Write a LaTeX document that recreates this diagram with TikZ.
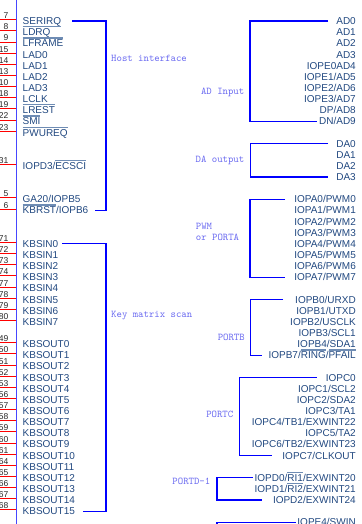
\documentclass[tikz,border=0pt]{standalone}
\usepackage{fontspec}
\setmainfont{Liberation Sans}
\usetikzlibrary{positioning,calc}
\definecolor{pinblue}{RGB}{33,72,128}
\definecolor{ovcol}{RGB}{110,140,180}
\definecolor{grpblue}{RGB}{105,105,240}
\definecolor{chipblue}{RGB}{70,70,255}
\newcommand{\ovl}[2][]{\setbox0=\hbox{#2}\setbox2=\hbox{\ifx\relax#1\relax#2\else#1\fi}\rlap{\textcolor{ovcol}{\rule[8.3pt]{\wd2}{1.2pt}}}\box0}
\newcommand{\lpin}[3]{%
  \node[pinl] (L#1) at (22.5,{21+11.14*#1}) {#3};
  \draw[lead] ($(L#1.west -| chip)+(0,-1.3)$) -- ($(L#1.west -| edge)+(0,-1.3)$);
  \node[num] (N#1) at ($(L#1.west -| numx)+(0,-2.3)$) {#2};}

\begin{document}
\begin{tikzpicture}[
  x=1pt,y=-1pt,
  pinl/.style={anchor=west,inner sep=0pt,text height=7.2pt,text depth=0pt,text=pinblue,font=\fontsize{10}{12}\selectfont},
  pinr/.style={pinl,anchor=east},
  num/.style={anchor=base east,inner sep=0pt,font=\fontsize{8.5}{10}\selectfont,text=black!85},
  grp/.style={inner sep=0pt,text=grpblue,font=\fontsize{10.3}{10.7}\selectfont\ttfamily},
  lead/.style={red,line width=0.9pt},
  brk/.style={blue,line width=1.1pt},
  wall/.style={chipblue,line width=1pt}
]
\useasboundingbox (0,0) rectangle (361,524);
\coordinate (chip) at (16,0);
\coordinate (edge) at (-2,0);
\coordinate (numx) at (8.5,0);
\coordinate (lspine) at (106,0);
\coordinate (adx) at (250,0);
\coordinate (dax) at (250.3,0);
\coordinate (pwmx) at (250,0);
\coordinate (pbx) at (250.3,0);
\coordinate (pcx) at (239.3,0);
\coordinate (pdx) at (217,0);
\draw[wall] (chip |- 0,-5) -- (chip |- 0,540);

\foreach \r/\n/\t in {0/7/SERIRQ,1/8/\ovl[SERIRQ]{LDRQ},2/9/\ovl{LFRAME},3/15/LAD0,4/14/LAD1,5/13/LAD2,6/10/LAD3,
  7/18/LCLK,8/19/\ovl{LREST},9/22/\ovl{SMI},10/23/\ovl{PWUREQ},13/31/{IOPD3/\ovl{ECSCI}},
  16/5/{GA20/IOPB5},17/6/{\ovl{KBRST}/IOPB6}} {\lpin{\r}{\n}{\t}}
\foreach \n [count=\i from 0, evaluate=\i as \r using int(20+\i)] in {71,72,73,74,77,78,79,80} {\lpin{\r}{\n}{KBSIN\i}}
\foreach \n [count=\i from 0, evaluate=\i as \r using int(29+\i)] in {49,50,51,52,53,56,57,58,59,60,61,64,65,66,67,68} {\lpin{\r}{\n}{KBSOUT\i}}

\foreach \r/\t in {0/AD0,1/AD1,2/AD2,3/AD3,4/IOPE0AD4,5/{IOPE1/AD5},6/{IOPE2/AD6},7/{IOPE3/AD7},8/{DP/AD8},9/{DN/AD9},
  11/DA0,12/DA1,13/DA2,14/DA3,
  25/{IOPB0/URXD},26/{IOPB1/UTXD},27/{IOPB2/USCLK},28/{IOPB3/SCL1},29/{IOPB4/SDA1},30/{IOPB7/\ovl{RING}/\ovl{PFAIL}},
  32/IOPC0,33/{IOPC1/SCL2},34/{IOPC2/SDA2},35/{IOPC3/TA1},36/{IOPC4/TB1/EXWINT22},37/{IOPC5/TA2},38/{IOPC6/TB2/EXWINT23},39/{IOPC7/CLKOUT},
  41/{IOPD0/\ovl{RI1}/EXWINT20},42/{IOPD1/\ovl{RI2}/EXWINT21},43/{IOPD2/EXWINT24},45/{IOPE4/SWIN}}
  \node[pinr] (R\r) at (356,{21+11.14*\r}) {\t};
\foreach \i [evaluate=\i as \r using int(16+\i)] in {0,...,7}
  \node[pinr] (R\r) at (356,{21+11.14*\r}) {IOPA\i/PWM\i};

\foreach \t/\b/\gt/\gb in {0/17/11/7,20/44/4/8}
  \draw[brk] ([xshift=\gt pt]L\t.east) -- (L\t.east -| lspine) -- (L\b.east -| lspine) -- ([xshift=\gb pt]L\b.east);
\foreach \t/\b/\s/\gt/\gb in {0/9/adx/8/2,11/14/dax/8/8.5,16/23/pwmx/9/9,25/30/pbx/12/6,32/39/pcx/9/10,41/43/pdx/1.5/11}
  \draw[brk] ([xshift=-\gt pt]R\t.west) -- (R\t.west -| \s) -- (R\b.west -| \s) -- ([xshift=-\gb pt]R\b.west);
\draw[brk] ([xshift=-1.5pt]R45.west) -- (R45.west -| pdx) -- ++(0,20);

\node[grp,anchor=base west] (host) at (111,62) {Host interface};
\node[grp,anchor=base west] (keymx) at (111,317.7) {Key matrix scan};
\node[grp,anchor=base east] (adin) at (244.5,95) {AD Input};
\node[grp,anchor=base east] (daout) at (244.5,162) {DA output};
\node[grp,anchor=north west,align=left] (pwma) at (195.7,223) {PWM\\or PORTA};
\node[grp,anchor=base east] (portb) at (245,340.5) {PORTB};
\node[grp,anchor=base east] (portc) at (233.5,417.7) {PORTC};
\node[grp,anchor=base east] (portd) at (210.5,484) {PORTD-1};
\end{tikzpicture}
\end{document}
